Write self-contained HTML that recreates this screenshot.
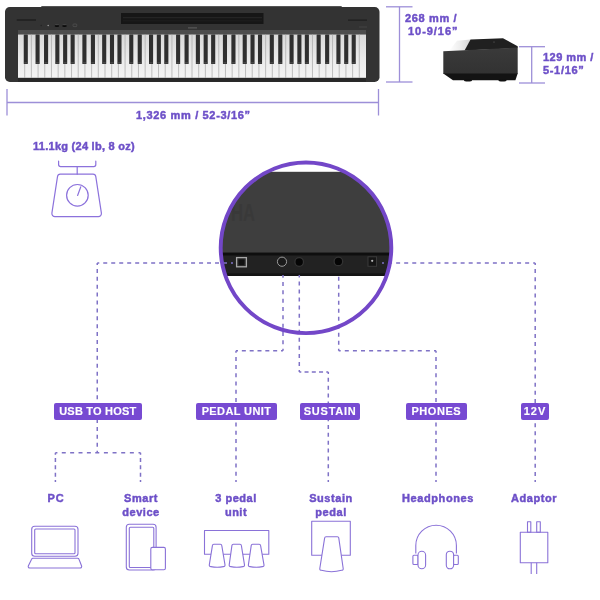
<!DOCTYPE html>
<html><head><meta charset="utf-8">
<style>
html,body{margin:0;padding:0;background:#fff;}
body{width:600px;height:600px;position:relative;overflow:hidden;font-family:"Liberation Sans",sans-serif;font-weight:bold;}
svg{position:absolute;left:0;top:0;}
.t,.lab{will-change:transform;}
.t{position:absolute;color:#6d50c8;font-size:11px;line-height:14px;white-space:nowrap;-webkit-text-stroke:0.45px #6d50c8;}
.c{text-align:center;}
.lab{position:absolute;background:#774ad2;color:#fff;-webkit-text-stroke:0.15px #fff;font-size:11px;line-height:16.7px;height:16.7px;border-radius:2px;text-align:center;white-space:nowrap;}
</style></head>
<body>
<svg width="600" height="600" viewBox="0 0 600 600" id="main">
<defs>
<clipPath id="cc"><circle cx="306" cy="247.8" r="85.3"/></clipPath>
<linearGradient id="wk" x1="0" y1="0" x2="0" y2="1">
<stop offset="0" stop-color="#d8d8d8"/><stop offset="0.6" stop-color="#ececec"/><stop offset="1" stop-color="#f4f4f4"/>
</linearGradient>
</defs>
<!-- piano top view -->
<rect x="41" y="6.2" width="301" height="3" rx="1" fill="#1e1e1e"/>
<rect x="5" y="7" width="374.5" height="75" rx="4.8" fill="#333333"/>
<rect x="18" y="77" width="348" height="4.8" fill="#282828"/>
<rect x="121" y="13" width="142.5" height="11" fill="#161616"/>
<rect x="123" y="17.2" width="139" height="1" fill="#282828"/>
<rect x="123" y="20.5" width="139" height="0.8" fill="#202020"/>
<rect x="16.7" y="19.5" width="19.3" height="1" fill="#151515"/>
<rect x="348" y="19.6" width="19" height="1" fill="#1a1a1a"/>
<rect x="359" y="26.6" width="8" height="0.8" fill="#4a4a4a"/>
<circle cx="41.2" cy="25.5" r="0.7" fill="#222"/>
<circle cx="48.2" cy="25.5" r="0.8" fill="#999"/>
<ellipse cx="56.9" cy="26" rx="2.3" ry="1" fill="#0a0a0a"/>
<ellipse cx="64.5" cy="26" rx="2.3" ry="1" fill="#0a0a0a"/>
<ellipse cx="56.9" cy="24.6" rx="2.2" ry="0.6" fill="#444"/>
<ellipse cx="64.5" cy="24.6" rx="2.2" ry="0.6" fill="#444"/>
<rect x="73" y="24" width="3.8" height="2.6" rx="0.8" fill="none" stroke="#5a5a5a" stroke-width="0.6"/>
<rect x="18" y="30" width="348" height="4.5" fill="#4c4c4c"/>
<rect x="188" y="27" width="9" height="1.7" fill="#4e4e4e"/>
<rect x="18" y="34.5" width="348" height="43.3" fill="url(#wk)"/>
<g stroke="#a8a8a8" stroke-width="0.7"><line x1="24.69" y1="34.5" x2="24.69" y2="78"/><line x1="31.38" y1="34.5" x2="31.38" y2="78"/><line x1="38.08" y1="34.5" x2="38.08" y2="78"/><line x1="44.77" y1="34.5" x2="44.77" y2="78"/><line x1="51.46" y1="34.5" x2="51.46" y2="78"/><line x1="58.15" y1="34.5" x2="58.15" y2="78"/><line x1="64.85" y1="34.5" x2="64.85" y2="78"/><line x1="71.54" y1="34.5" x2="71.54" y2="78"/><line x1="78.23" y1="34.5" x2="78.23" y2="78"/><line x1="84.92" y1="34.5" x2="84.92" y2="78"/><line x1="91.62" y1="34.5" x2="91.62" y2="78"/><line x1="98.31" y1="34.5" x2="98.31" y2="78"/><line x1="105.00" y1="34.5" x2="105.00" y2="78"/><line x1="111.69" y1="34.5" x2="111.69" y2="78"/><line x1="118.38" y1="34.5" x2="118.38" y2="78"/><line x1="125.08" y1="34.5" x2="125.08" y2="78"/><line x1="131.77" y1="34.5" x2="131.77" y2="78"/><line x1="138.46" y1="34.5" x2="138.46" y2="78"/><line x1="145.15" y1="34.5" x2="145.15" y2="78"/><line x1="151.85" y1="34.5" x2="151.85" y2="78"/><line x1="158.54" y1="34.5" x2="158.54" y2="78"/><line x1="165.23" y1="34.5" x2="165.23" y2="78"/><line x1="171.92" y1="34.5" x2="171.92" y2="78"/><line x1="178.62" y1="34.5" x2="178.62" y2="78"/><line x1="185.31" y1="34.5" x2="185.31" y2="78"/><line x1="192.00" y1="34.5" x2="192.00" y2="78"/><line x1="198.69" y1="34.5" x2="198.69" y2="78"/><line x1="205.38" y1="34.5" x2="205.38" y2="78"/><line x1="212.08" y1="34.5" x2="212.08" y2="78"/><line x1="218.77" y1="34.5" x2="218.77" y2="78"/><line x1="225.46" y1="34.5" x2="225.46" y2="78"/><line x1="232.15" y1="34.5" x2="232.15" y2="78"/><line x1="238.85" y1="34.5" x2="238.85" y2="78"/><line x1="245.54" y1="34.5" x2="245.54" y2="78"/><line x1="252.23" y1="34.5" x2="252.23" y2="78"/><line x1="258.92" y1="34.5" x2="258.92" y2="78"/><line x1="265.62" y1="34.5" x2="265.62" y2="78"/><line x1="272.31" y1="34.5" x2="272.31" y2="78"/><line x1="279.00" y1="34.5" x2="279.00" y2="78"/><line x1="285.69" y1="34.5" x2="285.69" y2="78"/><line x1="292.38" y1="34.5" x2="292.38" y2="78"/><line x1="299.08" y1="34.5" x2="299.08" y2="78"/><line x1="305.77" y1="34.5" x2="305.77" y2="78"/><line x1="312.46" y1="34.5" x2="312.46" y2="78"/><line x1="319.15" y1="34.5" x2="319.15" y2="78"/><line x1="325.85" y1="34.5" x2="325.85" y2="78"/><line x1="332.54" y1="34.5" x2="332.54" y2="78"/><line x1="339.23" y1="34.5" x2="339.23" y2="78"/><line x1="345.92" y1="34.5" x2="345.92" y2="78"/><line x1="352.62" y1="34.5" x2="352.62" y2="78"/><line x1="359.31" y1="34.5" x2="359.31" y2="78"/></g>
<g fill="#2f2f2f"><rect x="23.74" y="34.5" width="4.1" height="29.5" rx="0.5"/><rect x="35.53" y="34.5" width="4.1" height="29.5" rx="0.5"/><rect x="44.02" y="34.5" width="4.1" height="29.5" rx="0.5"/><rect x="55.30" y="34.5" width="4.1" height="29.5" rx="0.5"/><rect x="63.10" y="34.5" width="4.1" height="29.5" rx="0.5"/><rect x="70.59" y="34.5" width="4.1" height="29.5" rx="0.5"/><rect x="82.37" y="34.5" width="4.1" height="29.5" rx="0.5"/><rect x="90.87" y="34.5" width="4.1" height="29.5" rx="0.5"/><rect x="102.15" y="34.5" width="4.1" height="29.5" rx="0.5"/><rect x="109.94" y="34.5" width="4.1" height="29.5" rx="0.5"/><rect x="117.43" y="34.5" width="4.1" height="29.5" rx="0.5"/><rect x="129.22" y="34.5" width="4.1" height="29.5" rx="0.5"/><rect x="137.71" y="34.5" width="4.1" height="29.5" rx="0.5"/><rect x="149.00" y="34.5" width="4.1" height="29.5" rx="0.5"/><rect x="156.79" y="34.5" width="4.1" height="29.5" rx="0.5"/><rect x="164.28" y="34.5" width="4.1" height="29.5" rx="0.5"/><rect x="176.07" y="34.5" width="4.1" height="29.5" rx="0.5"/><rect x="184.56" y="34.5" width="4.1" height="29.5" rx="0.5"/><rect x="195.84" y="34.5" width="4.1" height="29.5" rx="0.5"/><rect x="203.63" y="34.5" width="4.1" height="29.5" rx="0.5"/><rect x="211.13" y="34.5" width="4.1" height="29.5" rx="0.5"/><rect x="222.91" y="34.5" width="4.1" height="29.5" rx="0.5"/><rect x="231.40" y="34.5" width="4.1" height="29.5" rx="0.5"/><rect x="242.69" y="34.5" width="4.1" height="29.5" rx="0.5"/><rect x="250.48" y="34.5" width="4.1" height="29.5" rx="0.5"/><rect x="257.97" y="34.5" width="4.1" height="29.5" rx="0.5"/><rect x="269.76" y="34.5" width="4.1" height="29.5" rx="0.5"/><rect x="278.25" y="34.5" width="4.1" height="29.5" rx="0.5"/><rect x="289.53" y="34.5" width="4.1" height="29.5" rx="0.5"/><rect x="297.33" y="34.5" width="4.1" height="29.5" rx="0.5"/><rect x="304.82" y="34.5" width="4.1" height="29.5" rx="0.5"/><rect x="316.60" y="34.5" width="4.1" height="29.5" rx="0.5"/><rect x="325.10" y="34.5" width="4.1" height="29.5" rx="0.5"/><rect x="336.38" y="34.5" width="4.1" height="29.5" rx="0.5"/><rect x="344.17" y="34.5" width="4.1" height="29.5" rx="0.5"/><rect x="351.67" y="34.5" width="4.1" height="29.5" rx="0.5"/></g><g fill="#4a4a4a"><rect x="24.24" y="62.2" width="3.1" height="1.2"/><rect x="36.03" y="62.2" width="3.1" height="1.2"/><rect x="44.52" y="62.2" width="3.1" height="1.2"/><rect x="55.80" y="62.2" width="3.1" height="1.2"/><rect x="63.60" y="62.2" width="3.1" height="1.2"/><rect x="71.09" y="62.2" width="3.1" height="1.2"/><rect x="82.87" y="62.2" width="3.1" height="1.2"/><rect x="91.37" y="62.2" width="3.1" height="1.2"/><rect x="102.65" y="62.2" width="3.1" height="1.2"/><rect x="110.44" y="62.2" width="3.1" height="1.2"/><rect x="117.93" y="62.2" width="3.1" height="1.2"/><rect x="129.72" y="62.2" width="3.1" height="1.2"/><rect x="138.21" y="62.2" width="3.1" height="1.2"/><rect x="149.50" y="62.2" width="3.1" height="1.2"/><rect x="157.29" y="62.2" width="3.1" height="1.2"/><rect x="164.78" y="62.2" width="3.1" height="1.2"/><rect x="176.57" y="62.2" width="3.1" height="1.2"/><rect x="185.06" y="62.2" width="3.1" height="1.2"/><rect x="196.34" y="62.2" width="3.1" height="1.2"/><rect x="204.13" y="62.2" width="3.1" height="1.2"/><rect x="211.63" y="62.2" width="3.1" height="1.2"/><rect x="223.41" y="62.2" width="3.1" height="1.2"/><rect x="231.90" y="62.2" width="3.1" height="1.2"/><rect x="243.19" y="62.2" width="3.1" height="1.2"/><rect x="250.98" y="62.2" width="3.1" height="1.2"/><rect x="258.47" y="62.2" width="3.1" height="1.2"/><rect x="270.26" y="62.2" width="3.1" height="1.2"/><rect x="278.75" y="62.2" width="3.1" height="1.2"/><rect x="290.03" y="62.2" width="3.1" height="1.2"/><rect x="297.83" y="62.2" width="3.1" height="1.2"/><rect x="305.32" y="62.2" width="3.1" height="1.2"/><rect x="317.10" y="62.2" width="3.1" height="1.2"/><rect x="325.60" y="62.2" width="3.1" height="1.2"/><rect x="336.88" y="62.2" width="3.1" height="1.2"/><rect x="344.67" y="62.2" width="3.1" height="1.2"/><rect x="352.17" y="62.2" width="3.1" height="1.2"/></g>
<!-- dimension lines -->
<g stroke="#9d8fd8" stroke-width="1.3" fill="none">
<line x1="7" y1="89" x2="7" y2="115.5"/>
<line x1="378.5" y1="89" x2="378.5" y2="115.5"/>
<line x1="7" y1="102.5" x2="378.5" y2="102.5"/>
<line x1="386" y1="6.8" x2="412.5" y2="6.8"/>
<line x1="386" y1="82" x2="412.5" y2="82"/>
<line x1="399.5" y1="6.8" x2="399.5" y2="82"/>
<line x1="519" y1="46.7" x2="545" y2="46.7"/>
<line x1="519" y1="83" x2="545" y2="83"/>
<line x1="531.7" y1="46.7" x2="531.7" y2="83"/>
</g>
<!-- end view piano -->
<defs><linearGradient id="kg" x1="0" y1="0" x2="1" y2="0"><stop offset="0" stop-color="#ffffff"/><stop offset="0.5" stop-color="#eeeeee"/><stop offset="1" stop-color="#d4d4d4"/></linearGradient>
<linearGradient id="bg2" x1="0" y1="0" x2="0" y2="1"><stop offset="0" stop-color="#3a3a3a"/><stop offset="1" stop-color="#323232"/></linearGradient></defs>
<polygon points="457,40.7 470.5,39.4 464.5,50.2 449,51" fill="url(#kg)"/>
<polygon points="470.5,39.4 503,38.3 517.7,46.3 517.7,48 464.5,50.6" fill="#202020"/>
<polygon points="443.3,51.2 517.7,47.5 517.7,74 443.3,74" fill="url(#bg2)"/>
<polygon points="443.3,73.5 517.7,73.5 515.4,80.3 453,80.3" fill="#131313"/>
<ellipse cx="468" cy="80.6" rx="4" ry="1" fill="#111"/>
<ellipse cx="502.5" cy="80.6" rx="4" ry="1" fill="#111"/>
<circle cx="494" cy="42" r="0.5" fill="#777"/>

<!-- scale icon -->
<g stroke="#8c72dc" stroke-width="1.2" fill="none" stroke-linecap="round" stroke-linejoin="round">
<path d="M58.6,161.2 v3.4 a2,2 0 0 0 2,2 h33.2 a2,2 0 0 0 2,-2 v-3.4"/>
<line x1="77.2" y1="166.6" x2="77.2" y2="174.2"/>
<path d="M61.5,174.2 h31.5 a2.8,2.8 0 0 1 2.8,2.4 l5.6,36.6 a3,3 0 0 1 -3,3.4 h-43.5 a3,3 0 0 1 -3,-3.4 l5.6,-36.6 a2.8,2.8 0 0 1 2.8,-2.4 z"/>
<circle cx="77.4" cy="195.3" r="10.8"/>
<line x1="77.6" y1="195.5" x2="80.8" y2="186.8"/>
</g>

<!-- circle zoom -->
<g clip-path="url(#cc)">
<rect x="200" y="171.8" width="200" height="81" fill="#3e3e3e"/>
<rect x="200" y="252.5" width="200" height="23.5" fill="#222222"/>
<rect x="200" y="252.5" width="200" height="3" fill="#0e0e0e"/>
<rect x="200" y="273.3" width="200" height="2.7" fill="#141414"/>
<text x="231" y="221.3" font-family="Liberation Sans" font-weight="bold" font-size="24" fill="#393939" textLength="24" lengthAdjust="spacingAndGlyphs">HA</text>
<rect x="236.6" y="257.6" width="9.8" height="9.2" fill="#2a2a2a" stroke="#a8a8a8" stroke-width="1.3"/>
<rect x="238.6" y="259.4" width="5.8" height="5.6" rx="1" fill="#111"/>
<circle cx="282" cy="261.7" r="4.6" fill="#1a1a1a" stroke="#9a9a9a" stroke-width="1"/>
<circle cx="299.2" cy="262" r="4.3" fill="#050505" stroke="#333" stroke-width="1.3"/>
<circle cx="338.4" cy="261.4" r="4.3" fill="#050505" stroke="#333" stroke-width="1.3"/>
<rect x="368" y="256.8" width="8.5" height="9.5" fill="#151515" stroke="#3a3a3a" stroke-width="1"/>
<circle cx="372.2" cy="260.8" r="1.1" fill="#bbb"/>
</g>

<!-- dashed connectors -->
<path d="M97.25 263.00H99.25M103.24 263.00H107.24M111.22 263.00H115.22M119.21 263.00H123.21M127.19 263.00H131.19M135.18 263.00H139.18M143.16 263.00H147.16M151.15 263.00H155.15M159.13 263.00H163.13M167.12 263.00H171.12M175.10 263.00H179.10M183.09 263.00H187.09M191.07 263.00H195.07M199.06 263.00H203.06M207.04 263.00H211.04M215.03 263.00H219.03M223.01 263.00H227.01M231.00 263.00H233.00M97.25 263.00V265.00M97.25 268.90V272.90M97.25 276.80V280.80M97.25 284.71V288.71M97.25 292.61V296.61M97.25 300.51V304.51M97.25 308.41V312.41M97.25 316.31V320.31M97.25 324.22V328.22M97.25 332.12V336.12M97.25 340.02V344.02M97.25 347.92V351.92M97.25 355.82V359.82M97.25 363.73V367.73M97.25 371.63V375.63M97.25 379.53V383.53M97.25 387.43V391.43M97.25 395.34V399.34M97.25 403.24V407.24M97.25 411.14V415.14M97.25 419.04V423.04M97.25 426.94V430.94M97.25 434.85V438.85M97.25 442.75V446.75M97.25 450.65V452.65M55.40 452.65H57.40M61.77 452.65H65.77M70.14 452.65H74.14M78.51 452.65H82.51M86.88 452.65H90.88M95.25 452.65H97.25M97.25 452.65H99.25M103.90 452.65H107.90M112.55 452.65H116.55M121.20 452.65H125.20M129.85 452.65H133.85M138.50 452.65H140.50M55.40 452.65V454.65M55.40 457.99V461.99M55.40 465.32V469.32M55.40 472.66V476.66M55.40 480.00V482.00M140.50 452.65V454.65M140.50 457.99V461.99M140.50 465.32V469.32M140.50 472.66V476.66M140.50 480.00V482.00M283.00 348.70V350.70M283.00 340.36V344.36M283.00 332.02V336.02M283.00 323.68V327.68M283.00 315.34V319.34M283.00 307.00V311.00M283.00 298.66V302.66M283.00 290.32V294.32M283.00 281.98V285.98M283.00 275.00V277.64M236.00 350.70H238.00M241.83 350.70H245.83M249.67 350.70H253.67M257.50 350.70H261.50M265.33 350.70H269.33M273.17 350.70H277.17M281.00 350.70H283.00M236.00 350.70V352.70M236.00 356.91V360.91M236.00 365.11V369.11M236.00 373.32V377.32M236.00 381.52V385.52M236.00 389.73V393.73M236.00 397.94V401.94M236.00 406.14V410.14M236.00 414.35V418.35M236.00 422.56V426.56M236.00 430.76V434.76M236.00 438.97V442.97M236.00 447.18V451.18M236.00 455.38V459.38M236.00 463.59V467.59M236.00 471.79V475.79M236.00 480.00V482.00M299.30 370.00V372.00M299.30 361.95V365.95M299.30 353.90V357.90M299.30 345.85V349.85M299.30 337.80V341.80M299.30 329.75V333.75M299.30 321.70V325.70M299.30 313.65V317.65M299.30 305.60V309.60M299.30 297.55V301.55M299.30 289.50V293.50M299.30 281.45V285.45M299.30 275.00V277.40M299.30 372.00H301.30M304.55 372.00H308.55M311.80 372.00H315.80M319.05 372.00H323.05M326.30 372.00H328.30M328.30 372.00V374.00M328.30 377.86V381.86M328.30 385.71V389.71M328.30 393.57V397.57M328.30 401.43V405.43M328.30 409.29V413.29M328.30 417.14V421.14M328.30 425.00V429.00M328.30 432.86V436.86M328.30 440.71V444.71M328.30 448.57V452.57M328.30 456.43V460.43M328.30 464.29V468.29M328.30 472.14V476.14M328.30 480.00V482.00M338.70 348.70V350.70M338.70 340.70V344.70M338.70 332.70V336.70M338.70 324.70V328.70M338.70 316.70V320.70M338.70 308.70V312.70M338.70 300.70V304.70M338.70 292.70V296.70M338.70 284.70V288.70M338.70 276.70V280.70M338.70 350.70H340.70M344.81 350.70H348.81M352.92 350.70H356.92M361.02 350.70H365.02M369.13 350.70H373.13M377.24 350.70H381.24M385.35 350.70H389.35M393.46 350.70H397.46M401.57 350.70H405.57M409.68 350.70H413.68M417.78 350.70H421.78M425.89 350.70H429.89M434.00 350.70H436.00M436.00 350.70V352.70M436.00 356.91V360.91M436.00 365.11V369.11M436.00 373.32V377.32M436.00 381.52V385.52M436.00 389.73V393.73M436.00 397.94V401.94M436.00 406.14V410.14M436.00 414.35V418.35M436.00 422.56V426.56M436.00 430.76V434.76M436.00 438.97V442.97M436.00 447.18V451.18M436.00 455.38V459.38M436.00 463.59V467.59M436.00 471.79V475.79M436.00 480.00V482.00M382.00 263.00H384.00M388.06 263.00H392.06M396.13 263.00H400.13M404.19 263.00H408.19M412.25 263.00H416.25M420.32 263.00H424.32M428.38 263.00H432.38M436.44 263.00H440.44M444.51 263.00H448.51M452.57 263.00H456.57M460.63 263.00H464.63M468.69 263.00H472.69M476.76 263.00H480.76M484.82 263.00H488.82M492.88 263.00H496.88M500.95 263.00H504.95M509.01 263.00H513.01M517.07 263.00H521.07M525.14 263.00H529.14M533.20 263.00H535.20M535.20 263.00V265.00M535.20 269.11V273.11M535.20 277.22V281.22M535.20 285.33V289.33M535.20 293.44V297.44M535.20 301.56V305.56M535.20 309.67V313.67M535.20 317.78V321.78M535.20 325.89V329.89M535.20 334.00V338.00M535.20 342.11V346.11M535.20 350.22V354.22M535.20 358.33V362.33M535.20 366.44V370.44M535.20 374.56V378.56M535.20 382.67V386.67M535.20 390.78V394.78M535.20 398.89V402.89M535.20 407.00V411.00M535.20 415.11V419.11M535.20 423.22V427.22M535.20 431.33V435.33M535.20 439.44V443.44M535.20 447.56V451.56M535.20 455.67V459.67M535.20 463.78V467.78M535.20 471.89V475.89M535.20 480.00V482.00" stroke="#7f72c6" stroke-width="1.5" fill="none"/>

<circle cx="306" cy="247.8" r="85.3" fill="none" stroke="#7347c8" stroke-width="3.9"/>

<!-- bottom icons -->
<g stroke="#8a72d8" stroke-width="1.1" fill="none" stroke-linejoin="round">
<!-- laptop -->
<rect x="31.7" y="526.3" width="46.3" height="30" rx="3"/>
<rect x="34.7" y="529" width="40.3" height="24.7" rx="1"/>
<path d="M33,558.3 H77.6 a1.5,1.5 0 0 1 1.4,1 L81.6,566 a1.5,1.5 0 0 1 -1.4,2 H29.7 a1.5,1.5 0 0 1 -1.4,-2 L31.6,559.3 a1.5,1.5 0 0 1 1.4,-1 z"/>
<!-- tablet -->
<rect x="126.3" y="524.3" width="29.8" height="45.7" rx="3"/>
<rect x="129.3" y="527.3" width="24.5" height="40.2" rx="1"/>
<rect x="150.8" y="547.4" width="14.6" height="22.4" rx="1.5" fill="#fff"/>
<!-- pedal unit -->
<rect x="204.5" y="530.5" width="64.3" height="23.7"/>
<path d="M213.80,544.2 H220.40 Q221.60,544.2 221.75,545.40 L225.00,564.80 Q225.20,566.50 223.40,566.60 Q217.15,567.90 210.90,566.60 Q209.10,566.50 209.30,564.80 L212.45,545.40 Q212.60,544.2 213.80,544.2 z" fill="#fff"/>
<path d="M233.30,544.2 H240.00 Q241.20,544.2 241.35,545.40 L244.50,564.80 Q244.70,566.50 242.90,566.60 Q236.85,567.90 230.80,566.60 Q229.00,566.50 229.20,564.80 L231.95,545.40 Q232.10,544.2 233.30,544.2 z" fill="#fff"/>
<path d="M252.60,544.2 H259.20 Q260.40,544.2 260.55,545.40 L264.00,564.80 Q264.20,566.50 262.40,566.60 Q256.20,567.90 250.00,566.60 Q248.20,566.50 248.40,564.80 L251.25,545.40 Q251.40,544.2 252.60,544.2 z" fill="#fff"/>
<!-- sustain -->
<rect x="311.7" y="521.3" width="38.6" height="34"/>
<path d="M326.00,536.7 H337.40 Q338.60,536.7 338.75,537.90 L343.20,568.50 Q343.40,570.20 341.60,570.30 Q331.50,573.20 321.40,570.30 Q319.60,570.20 319.80,568.50 L324.65,537.90 Q324.80,536.7 326.00,536.7 z" fill="#fff"/>
<!-- headphones -->
<path d="M415.8,553.5 V545.5 a20.3,20.3 0 0 1 40.6,0 V553.5"/>
<rect x="412.9" y="555.2" width="5.2" height="9.3" rx="1"/>
<rect x="453.4" y="555.2" width="4.9" height="9.3" rx="1"/>
<rect x="418" y="551.2" width="7.6" height="17.6" rx="3.8" fill="#fff"/>
<rect x="446.3" y="551.2" width="7.3" height="17.6" rx="3.6" fill="#fff"/>
<!-- adaptor -->
<rect x="520.3" y="532.2" width="27.5" height="30.6"/>
<rect x="527.5" y="521.7" width="3.3" height="10.5"/>
<rect x="536.7" y="521.7" width="3.6" height="10.5"/>
<line x1="531.2" y1="562.8" x2="531.2" y2="574"/>
<line x1="536.7" y1="562.8" x2="536.7" y2="574"/>
</g>
</svg>

<!-- texts -->
<div class="t" style="left:405px;top:10.5px;letter-spacing:0.64px;">268 mm /</div>
<div class="t" style="left:407.5px;top:24px;letter-spacing:0.95px;">10-9/16”</div>
<div class="t" style="left:542.5px;top:49.5px;letter-spacing:0.47px;">129 mm /</div>
<div class="t" style="left:542.5px;top:63px;letter-spacing:0.67px;">5-1/16”</div>
<div class="t" style="left:135.5px;top:108px;letter-spacing:0.66px;">1,326 mm / 52-3/16”</div>
<div class="t" style="left:33px;top:139px;letter-spacing:0.27px;">11.1kg (24 lb, 8 oz)</div>

<div class="lab" style="left:54px;top:403px;width:87.6px;letter-spacing:0.2px;">USB TO HOST</div>
<div class="lab" style="left:196px;top:403px;width:81px;letter-spacing:0.39px;">PEDAL UNIT</div>
<div class="lab" style="left:300px;top:403px;width:60.3px;letter-spacing:0.77px;">SUSTAIN</div>
<div class="lab" style="left:405.6px;top:403px;width:60.7px;letter-spacing:0.54px;">PHONES</div>
<div class="lab" style="left:521.2px;top:403px;width:28.1px;letter-spacing:1px;">12V</div>

<div class="t c" style="left:15.7px;top:490.5px;width:80px;letter-spacing:0.8px;">PC</div>
<div class="t c" style="left:101px;top:490.5px;width:80px;letter-spacing:0.55px;">Smart<br>device</div>
<div class="t c" style="left:195.8px;top:490.5px;width:80px;letter-spacing:0.5px;">3 pedal<br>unit</div>
<div class="t c" style="left:291px;top:490.5px;width:80px;letter-spacing:0.57px;">Sustain<br>pedal</div>
<div class="t c" style="left:400px;top:490.5px;width:76px;letter-spacing:0.58px;">Headphones</div>
<div class="t c" style="left:493.5px;top:490.5px;width:80px;letter-spacing:0.58px;">Adaptor</div>
</body></html>
